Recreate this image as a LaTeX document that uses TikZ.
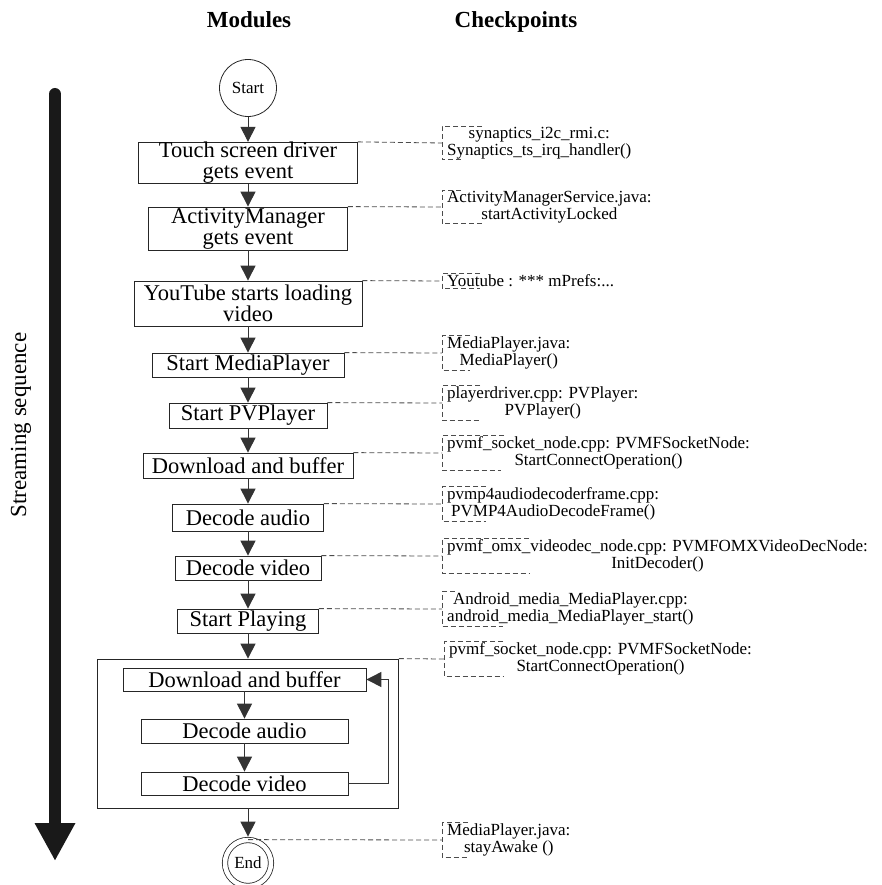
\documentclass[tikz,border=0pt]{standalone}
\usepackage{fontspec}
\setmainfont{Liberation Serif}
\usetikzlibrary{arrows.meta,positioning}

\tikzset{
  module/.style={draw=black!85, line width=0.8pt, inner sep=0pt, align=center, font=\fontsize{22.5}{21}\selectfont},
  check/.style={anchor=west, inner xsep=5pt, inner ysep=1pt, align=center, font=\fontsize{17}{15}\selectfont},
  flow/.style={->, line width=1pt, draw=black!80},
  link/.style={draw=black!70, line width=0.8pt, dash pattern=on 5pt off 3pt},
  >={Triangle[length=15pt,width=15pt]}
}

\begin{document}
\begin{tikzpicture}[x=1pt,y=-1pt]
	\useasboundingbox (0,0) rectangle (882,885);

	\node[anchor=base, font=\fontsize{23}{23}\selectfont\bfseries] (H1) at (249,28) {Modules};
	\node[anchor=base, font=\fontsize{23}{23}\selectfont\bfseries] (H2) at (516,28) {Checkpoints};

	\node[draw=black!85, line width=0.8pt, circle, minimum size=57pt, inner sep=0pt, font=\fontsize{17}{17}\selectfont] (S) at (248,88) {Start};

	\node[module, minimum width=219pt, minimum height=40pt] (M1) at (248,163) {Touch screen driver\\gets event};
	\node[module, minimum width=199pt, minimum height=43pt] (M2) at (248,228.5) {ActivityManager\\gets event};
	\node[module, minimum width=228pt, minimum height=45pt] (M3) at (248,303.5) {YouTube starts loading\\video};
	\node[module, minimum width=192pt, minimum height=24pt] (M4) at (248,365) {Start MediaPlayer};
	\node[module, minimum width=158pt, minimum height=25pt] (M5) at (248,415.5) {Start PVPlayer};
	\node[module, minimum width=210pt, minimum height=25pt] (M6) at (248,465.5) {Download and buffer};
	\node[module, minimum width=151pt, minimum height=27pt] (M7) at (248,517.5) {Decode audio};
	\node[module, minimum width=146pt, minimum height=24pt] (M8) at (248,568) {Decode video};
	\node[module, minimum width=141pt, minimum height=24pt] (M9) at (248,621) {Start Playing};
	\node[module, minimum width=301pt, minimum height=149pt] (M10) at (248,733.5) {};

	\node[module, minimum width=243pt, minimum height=23pt] (I1) at (244.5,679.5) {Download and buffer};
	\node[module, minimum width=207pt, minimum height=24pt] (I2) at (244.5,731) {Decode audio};
	\node[module, minimum width=207pt, minimum height=23pt] (I3) at (244.5,783.5) {Decode video};
	\coordinate (LP) at (388,783.5);

	\node[draw=black!85, line width=0.8pt, circle, double, double distance=4.5pt, minimum size=46pt, inner sep=0pt, font=\fontsize{17}{17}\selectfont] (E) at (248,863) {End};

	\draw [flow] (S.south) to (M1.north);
	\draw [flow] (M1.south) to (M2.north);
	\draw [flow] (M2.south) to (M3.north);
	\draw [flow] (M3.south) to (M4.north);
	\draw [flow] (M4.south) to (M5.north);
	\draw [flow] (M5.south) to (M6.north);
	\draw [flow] (M6.south) to (M7.north);
	\draw [flow] (M7.south) to (M8.north);
	\draw [flow] (M8.south) to (M9.north);
	\draw [flow] (M9.south) to (M10.north);
	\draw [flow] (I1.south) to (I2.north);
	\draw [flow] (I2.south) to (I3.north);
	\draw [flow] (I3.east) -- (LP) |- (I1.east);
	\draw [flow, shorten >=3pt] (M10.south) to (E.north);

	\node[check] (C1) at (442,143) {synaptics\_i2c\_rmi.c:\\Synaptics\_ts\_irq\_handler()};
	\node[check] (C2) at (442,207) {ActivityManagerService.java:\\startActivityLocked};
	\node[check] (C3) at (442,281) {Youtube : *** mPrefs:...};
	\node[check] (C4) at (442,353) {MediaPlayer.java:\\MediaPlayer()};
	\node[check] (C5) at (442,403) {playerdriver.cpp: PVPlayer:\\PVPlayer()};
	\node[check] (C6) at (442,453) {pvmf\_socket\_node.cpp: PVMFSocketNode:\\StartConnectOperation()};
	\node[check] (C7) at (442,504) {pvmp4audiodecoderframe.cpp:\\PVMP4AudioDecodeFrame()};
	\node[check] (C8) at (442,556) {pvmf\_omx\_videodec\_node.cpp: PVMFOMXVideoDecNode:\\InitDecoder()};
	\node[check] (C9) at (442,609) {Android\_media\_MediaPlayer.cpp:\\android\_media\_MediaPlayer\_start()};
	\node[check] (C10) at (444,659) {pvmf\_socket\_node.cpp: PVMFSocketNode:\\StartConnectOperation()};
	\node[check] (C11) at (442,840) {MediaPlayer.java:\\stayAwake ()};

	\draw [link] (M1.north east) -- (C1.west);
	\draw [link] (M2.north east) -- (C2.west);
	\draw [link] (M3.north east) -- (C3.west);
	\draw [link] (M4.north east) -- (C4.west);
	\draw [link] (M5.north east) -- (C5.west);
	\draw [link] (M6.north east) -- (C6.west);
	\draw [link] (M7.north east) -- (C7.west);
	\draw [link] (M8.north east) -- (C8.west);
	\draw [link] (M9.north east) -- (C9.west);
	\draw [link] (M10.north east) -- (C10.west);
	\draw [link] (E.north) -- (C11.west);

	% dashed brackets round the checkpoint texts
	\draw [link] ([xshift=40pt]C1.north west) -- (C1.north west) -- (C1.south west) -- ([xshift=22pt]C1.south west);
	\draw [link] ([xshift=19pt]C2.north west) -- (C2.north west) -- (C2.south west) -- ([xshift=41pt]C2.south west);
	\draw [link] ([xshift=38pt]C3.north west) -- (C3.north west) -- (C3.south west) -- ([xshift=38pt]C3.south west);
	\draw [link] ([xshift=28pt]C4.north west) -- (C4.north west) -- (C4.south west) -- ([xshift=28pt]C4.south west);
	\draw [link] ([xshift=38pt]C5.north west) -- (C5.north west) -- (C5.south west) -- ([xshift=38pt]C5.south west);
	\draw [link] ([xshift=62pt]C6.north west) -- (C6.north west) -- (C6.south west) -- ([xshift=59pt]C6.south west);
	\draw [link] ([xshift=44pt]C7.north west) -- (C7.north west) -- (C7.south west) -- ([xshift=44pt]C7.south west);
	\draw [link] ([xshift=87pt]C8.north west) -- (C8.north west) -- (C8.south west) -- ([xshift=87pt]C8.south west);
	\draw [link] ([xshift=13pt]C9.north west) -- (C9.north west) -- (C9.south west) -- ([xshift=61pt]C9.south west);
	\draw [link] ([xshift=59pt]C10.north west) -- (C10.north west) -- (C10.south west) -- ([xshift=60pt]C10.south west);
	\draw [link] ([xshift=26pt]C11.north west) -- (C11.north west) -- (C11.south west) -- ([xshift=26pt]C11.south west);

	\coordinate (Q1) at (55,94);
	\coordinate (Q2) at (55,861);
	\draw [line width=12pt, line cap=round, draw=black!90, -{Triangle[length=38pt,width=38pt]}] (Q1) -- (Q2);
	\node[rotate=90, anchor=base, font=\fontsize{23}{23}\selectfont] (SQ) at (26,425) {Streaming sequence};

\end{tikzpicture}
\end{document}
